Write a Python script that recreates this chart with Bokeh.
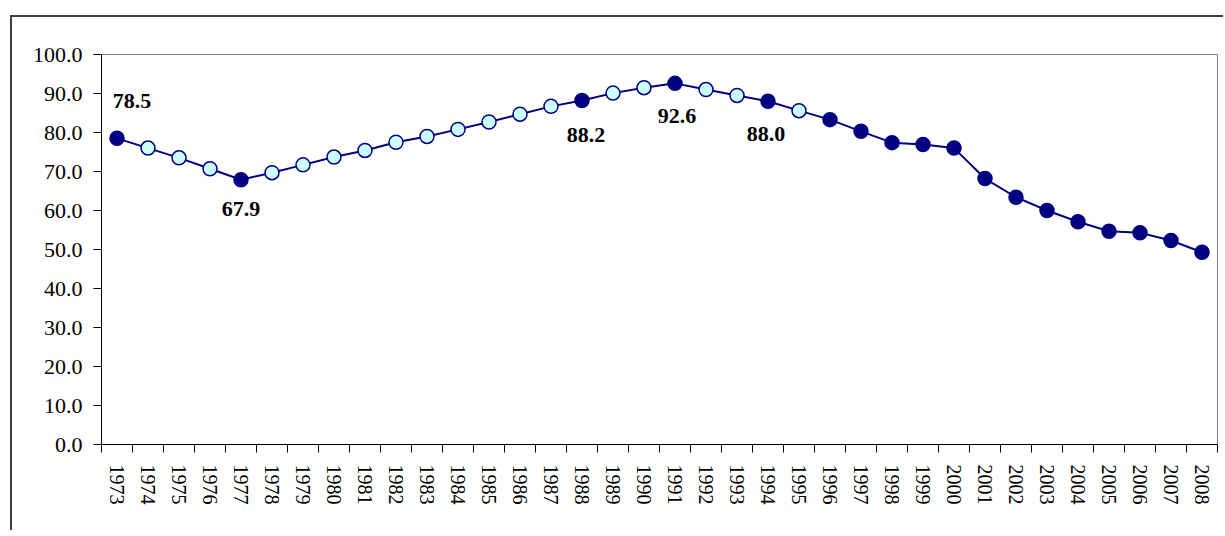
from bokeh.plotting import figure
from bokeh.models import FixedTicker, Range1d, ColumnDataSource, NumeralTickFormatter
from bokeh.core.properties import value
from bokeh.embed import file_html
from bokeh.resources import INLINE

years = [str(y) for y in range(1973, 2009)]
values = [78.5, 76.0, 73.5, 70.7, 67.9, 69.7, 71.7, 73.7, 75.4, 77.5,
          79.0, 80.8, 82.7, 84.7, 86.7, 88.2, 90.1, 91.5, 92.6, 91.0,
          89.5, 88.0, 85.6, 83.3, 80.3, 77.4, 76.9, 76.0, 68.2, 63.4,
          60.0, 57.1, 54.7, 54.3, 52.3, 49.3]
highlight_years = ["1973", "1977", "1988", "1991", "1994", "1996", "1997", "1998",
                   "1999", "2000", "2001", "2002", "2003", "2004", "2005", "2006",
                   "2007", "2008"]
label_years = ["1973", "1977", "1988", "1991", "1994"]
y_ticks = [0, 10, 20, 30, 40, 50, 60, 70, 80, 90, 100]

# styles for the labels (screen offsets)
label_dx = [15, 0, 4, 2, -2]
label_dy = [-37, 29, 34, 33, 33]

NAVY = "#000080"
LIGHT = "#CCFFFF"
SERIF = "Liberation Serif"

xs = list(range(len(years)))
fills = [NAVY if y in highlight_years else LIGHT for y in years]
src = ColumnDataSource(dict(x=xs, y=values, fill=fills))

lx = [years.index(y) for y in label_years]
ly = [values[i] for i in lx]
ltxt = [f"{v:.1f}" for v in ly]
lsrc = ColumnDataSource(dict(x=lx, y=ly, t=ltxt, dx=label_dx, dy=label_dy))

p = figure(width=1213, height=515,
           x_range=Range1d(-0.5, len(years) - 0.5), y_range=Range1d(0, 100),
           output_backend="svg", toolbar_location=None,
           min_border_left=89, min_border_right=8, min_border_top=37, min_border_bottom=88,
           margin=(15, 0, 0, 10),
           styles={"border-left": "2px solid #404040", "border-top": "2px solid #404040"})
p.xgrid.visible = False
p.ygrid.visible = False
p.outline_line_color = "#808080"
p.outline_line_width = 1
p.background_fill_color = "white"
p.border_fill_color = "white"

p.line("x", "y", source=src, line_color=NAVY, line_width=2)
p.scatter("x", "y", source=src, size=14, fill_color="fill", line_color=NAVY, line_width=1.5)

p.text("x", "y", text="t", source=lsrc, x_offset="dx", y_offset="dy",
       text_font=value(SERIF), text_font_style="bold", text_font_size="22px",
       text_align="center", text_baseline="middle", text_color="black")

xa = p.xaxis[0]
xa.ticker = FixedTicker(ticks=xs, minor_ticks=[i - 0.5 for i in range(len(years) + 1)])
xa.major_label_overrides = {i: y for i, y in zip(xs, years)}
xa.major_label_orientation = "vertical"
xa.major_tick_line_color = None
xa.major_tick_out = 8
xa.major_tick_in = 0
xa.minor_tick_line_color = "black"
xa.minor_tick_out = 8
xa.minor_tick_in = 0
xa.major_label_standoff = 12
xa.axis_line_color = "black"
xa.major_label_text_font = SERIF
xa.major_label_text_font_size = "20px"
xa.major_label_text_color = "black"

ya = p.yaxis[0]
ya.ticker = FixedTicker(ticks=y_ticks)
ya.formatter = NumeralTickFormatter(format="0.0")
ya.major_tick_out = 8
ya.major_tick_in = 0
ya.minor_tick_line_color = None
ya.major_tick_line_color = "black"
ya.axis_line_color = "black"
ya.major_label_standoff = 11
ya.major_label_text_font = SERIF
ya.major_label_text_font_size = "22px"
ya.major_label_text_color = "black"

open("out.html", "w").write(file_html(p, INLINE))
